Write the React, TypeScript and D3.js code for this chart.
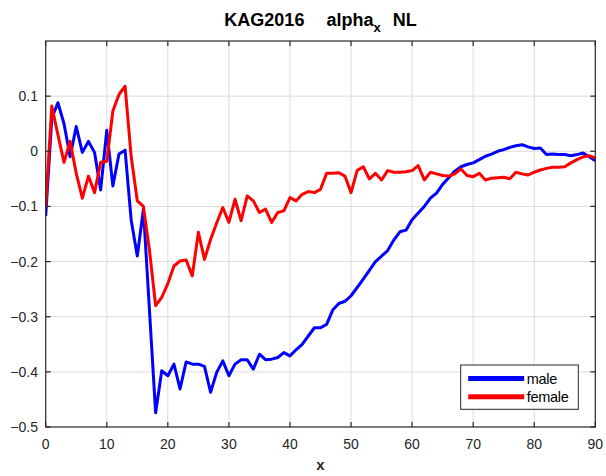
import React from "react";
import * as d3 from "d3";

// Ages 0..90
const ages: number[] = d3.range(0, 91);

const male: number[] = [
  -0.117, 0.06, 0.088, 0.05, -0.01, 0.045, -0.002, 0.018, -0.002, -0.07,
  0.038, -0.063, -0.005, 0.002, -0.125, -0.19, -0.105, -0.29, -0.474, -0.398,
  -0.407, -0.386, -0.431, -0.382, -0.386, -0.386, -0.39, -0.437, -0.401, -0.38,
  -0.407, -0.386, -0.378, -0.378, -0.395, -0.368, -0.378, -0.377, -0.374, -0.365,
  -0.371, -0.36, -0.35, -0.335, -0.32, -0.32, -0.314, -0.288, -0.276, -0.272,
  -0.262, -0.247, -0.232, -0.216, -0.2, -0.19, -0.18, -0.161, -0.146, -0.143,
  -0.124, -0.112, -0.1, -0.085, -0.076, -0.06, -0.048, -0.036, -0.028, -0.024,
  -0.021, -0.015, -0.009, -0.005, 0.0, 0.003, 0.007, 0.01, 0.012, 0.008,
  0.005, 0.006, -0.006, -0.005, -0.006, -0.006, -0.008, -0.006, -0.003, -0.01,
  -0.017,
];

const female: number[] = [
  -0.1, 0.082, 0.03, -0.02, 0.018, -0.04, -0.085, -0.045, -0.075, -0.02,
  -0.018, 0.073, 0.103, 0.118, -0.01, -0.09, -0.1, -0.18, -0.28, -0.265,
  -0.24, -0.208, -0.199, -0.197, -0.226, -0.147, -0.196, -0.16, -0.13, -0.102,
  -0.129, -0.087, -0.126, -0.081, -0.09, -0.111, -0.105, -0.129, -0.111, -0.108,
  -0.084, -0.09, -0.078, -0.073, -0.075, -0.069, -0.04, -0.04, -0.039, -0.045,
  -0.075, -0.035, -0.028, -0.05, -0.04, -0.052, -0.035, -0.038, -0.038, -0.037,
  -0.035, -0.026, -0.052, -0.038, -0.041, -0.044, -0.045, -0.041, -0.032, -0.044,
  -0.046, -0.04, -0.052, -0.049, -0.048, -0.047, -0.05, -0.038, -0.041, -0.043,
  -0.038, -0.034, -0.031, -0.029, -0.029, -0.028, -0.021, -0.015, -0.01, -0.008,
  -0.012,
];

const xTicks: number[] = [0, 10, 20, 30, 40, 50, 60, 70, 80, 90];
const yTicks: number[] = [-0.5, -0.4, -0.3, -0.2, -0.1, 0, 0.1];

const seriesNames: string[] = ["male", "female"];
const seriesColors: string[] = ["#0000ff", "#ff0000"];

const W = 606;
const H = 476;
const FONT = "'Liberation Sans', Arial, sans-serif";
const AXIS = "#262626";

export default function App() {
  const x = d3.scaleLinear().domain([0, 90]).range([45.7, 595.3]);
  const y = d3.scaleLinear().domain([-0.5, 0.2]).range([427, 41]);
  const [x0, x1] = x.range();
  const [yb, yt] = y.range();

  const line = d3
    .line<number>()
    .x((_, i) => x(ages[i]))
    .y((d) => y(d));

  const series = [male, female];
  const fmtY = (v: number) => (v === 0 ? "0" : d3.format(".1f")(v).replace("-", "\u2212"));
  const tick = 5;

  const legX = 460.7;
  const legY = 365;

  return (
    <svg width={W} height={H} style={{ display: "block", position: "absolute", left: 0, top: 0 }}>
      <rect x={0} y={0} width={W} height={H} fill="#fff" />
      {/* grid */}
      {xTicks.slice(1, -1).map((t) => (
        <line key={"gx" + t} x1={x(t)} x2={x(t)} y1={yt} y2={yb} stroke="#dcdcdc" strokeWidth={1} />
      ))}
      {yTicks.slice(1).map((t) => (
        <line key={"gy" + t} x1={x0} x2={x1} y1={y(t)} y2={y(t)} stroke="#dcdcdc" strokeWidth={1} />
      ))}
      {/* data */}
      <defs>
        <clipPath id="plotArea">
          <rect x={x0} y={yt} width={x1 - x0} height={yb - yt} />
        </clipPath>
      </defs>
      <g clipPath="url(#plotArea)">
        {series.map((s, k) => (
          <path
            key={seriesNames[k]}
            d={line(s) || ""}
            fill="none"
            stroke={seriesColors[k]}
            strokeWidth={3}
            strokeLinejoin="round"
          />
        ))}
      </g>
      {/* box and ticks */}
      <rect x={x0} y={yt} width={x1 - x0} height={yb - yt} fill="none" stroke={AXIS} strokeWidth={1.2} />
      {xTicks.map((t) => (
        <g key={"tx" + t}>
          <line x1={x(t)} x2={x(t)} y1={yb} y2={yb - tick} stroke={AXIS} strokeWidth={1.2} />
          <line x1={x(t)} x2={x(t)} y1={yt} y2={yt + tick} stroke={AXIS} strokeWidth={1.2} />
          <text x={x(t)} y={449} textAnchor="middle" fontFamily={FONT} fontSize={14} fill={AXIS}>
            {t}
          </text>
        </g>
      ))}
      {yTicks.map((t) => (
        <g key={"ty" + t}>
          <line x1={x0} x2={x0 + tick} y1={y(t)} y2={y(t)} stroke={AXIS} strokeWidth={1.2} />
          <line x1={x1} x2={x1 - tick} y1={y(t)} y2={y(t)} stroke={AXIS} strokeWidth={1.2} />
          <text x={38} y={y(t) + 5} textAnchor="end" fontFamily={FONT} fontSize={14} fill={AXIS}>
            {fmtY(t)}
          </text>
        </g>
      ))}
      {/* axis label */}
      <text x={(x0 + x1) / 2} y={470} textAnchor="middle" fontFamily={FONT} fontSize={15} fontWeight="bold" fill={AXIS}>
        x
      </text>
      {/* title */}
      <text x={320.5} y={26} textAnchor="middle" fontFamily={FONT} fontSize={18} fontWeight="bold" fill="#000">
        <tspan>KAG2016</tspan>
        <tspan dx={22}>alpha</tspan>
        <tspan fontSize={13} dy={6}>x</tspan>
        <tspan dx={12} dy={-6}>NL</tspan>
      </text>
      {/* legend */}
      <rect x={legX} y={legY} width={117.6} height={44.3} fill="#fff" stroke={AXIS} strokeWidth={1} />
      {seriesNames.map((n, k) => {
        const ly = legY + 13.5 + k * 18.3;
        return (
          <g key={"leg" + n}>
            <line x1={legX + 7.5} x2={legX + 63.5} y1={ly} y2={ly} stroke={seriesColors[k]} strokeWidth={5} />
            <text x={legX + 66} y={ly + 5} fontFamily={FONT} fontSize={14.5} fill="#000" letterSpacing={-0.3}>
              {n}
            </text>
          </g>
        );
      })}
    </svg>
  );
}
